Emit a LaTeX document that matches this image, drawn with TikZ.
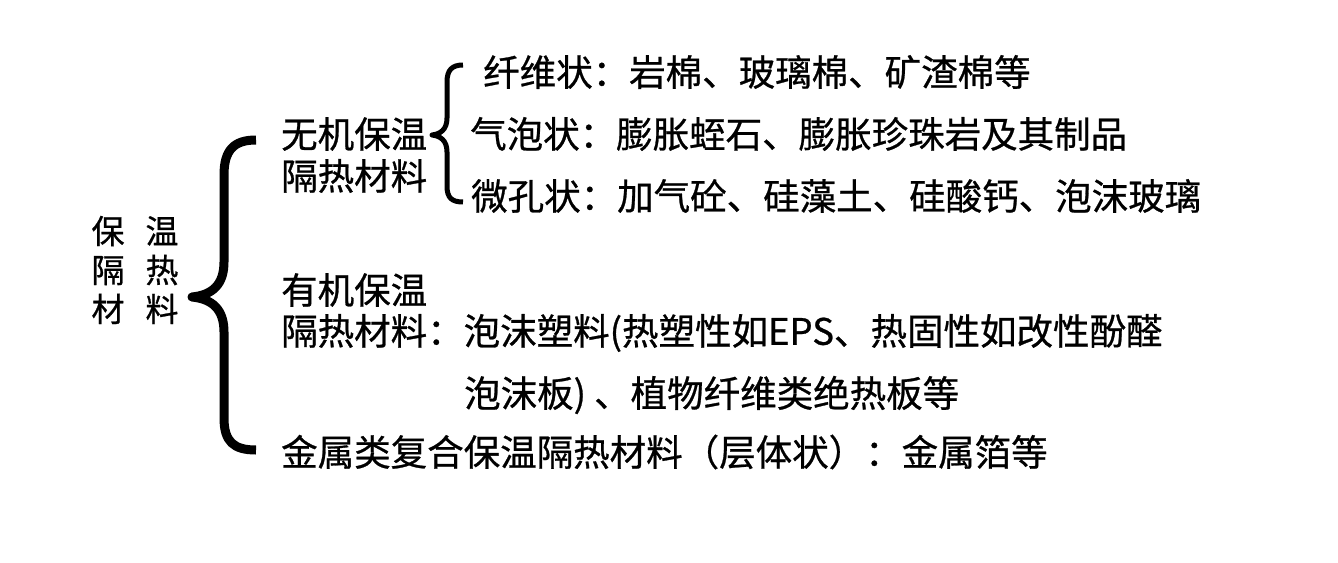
\documentclass[tikz,border=0pt]{standalone}
\usepackage{fontspec}
\setmainfont[FakeBold=0.7]{Noto Sans CJK SC}
\begin{document}
\begin{tikzpicture}[x=1pt,y=-1pt,
  txt/.style={anchor=west,inner sep=0pt,font=\fontsize{36.5}{42}\selectfont},
  brace/.style={line width=9pt,line join=round,black},
  sbrace/.style={line width=5pt,line join=round,black}]
\useasboundingbox[fill=white] (0,0) rectangle (1338,562);
% root label
\node[inner sep=0pt,align=center,font=\fontsize{33}{39}\selectfont] (root) at (135,270)
  {保\hspace{21pt}温\\隔\hspace{21pt}热\\材\hspace{21pt}料};
% big brace
\coordinate (bt) at (256,140);
\coordinate (bm) at (192,297);
\coordinate (bb) at (256,450);
\draw[brace] (bt) .. controls (234,140) and (224,150) .. (224,175) -- (224,262)
  .. controls (224,285) and (212,295) .. (bm)
  .. controls (212,299) and (224,309) .. (224,332) -- (224,418)
  .. controls (224,442) and (234,450) .. (bb);
% level 1
\node[txt] (inorg1) at (281,134) {无机保温};
\node[txt] (inorg2) at (281,176) {隔热材料};
\node[txt] (org1) at (281,290) {有机保温};
\node[txt] (org2) at (281,333) {隔热材料：泡沫塑料(热塑性如EPS、热固性如改性酚醛};
\node[txt] (org3) at (464,395) {泡沫板) 、植物纤维类绝热板等};
\node[txt] (metal) at (281,452) {金属类复合保温隔热材料（层体状）：金属箔等};
% small brace
\coordinate (st) at (463,65);
\coordinate (sm) at (432,135);
\coordinate (sb) at (463,202);
\draw[sbrace] (st) .. controls (452,65) and (447,70) .. (447,82) -- (447,118)
  .. controls (447,130) and (440,134) .. (sm)
  .. controls (440,136) and (447,140) .. (447,152) -- (447,186)
  .. controls (447,198) and (452,202) .. (sb);
% level 2
\node[txt] (fib) at (483,72) {纤维状：岩棉、玻璃棉、矿渣棉等};
\node[txt] (bub) at (470,134) {气泡状：膨胀蛭石、膨胀珍珠岩及其制品};
\node[txt] (por) at (471,196) {微孔状：加气砼、硅藻土、硅酸钙、泡沫玻璃};
\end{tikzpicture}
\end{document}
